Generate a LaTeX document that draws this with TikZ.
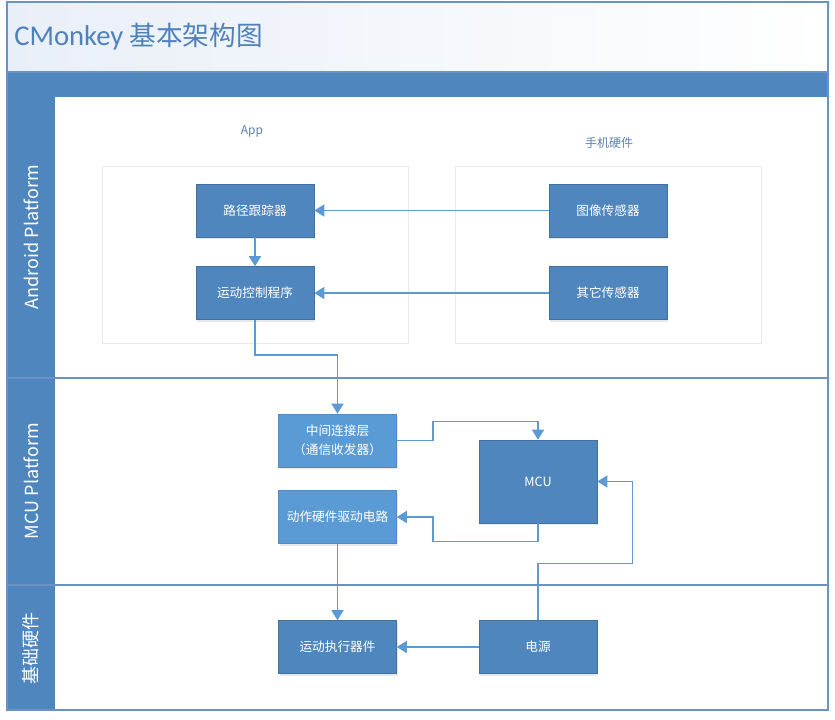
\documentclass[tikz,border=0pt]{standalone}
\usepackage{fontspec}
\setmainfont{Noto Sans CJK SC}
\newfontfamily\titlelatin{Carlito}
\usetikzlibrary{arrows.meta,shadows,calc}
\definecolor{boxblue}{HTML}{4F86BE}
\definecolor{boxedge}{HTML}{41719C}
\definecolor{lightboxcol}{HTML}{5B9BD5}
\definecolor{linkblue}{HTML}{5B9BD5}
\definecolor{framecol}{HTML}{6A93C4}
\definecolor{titlecol}{HTML}{4F81BD}
\definecolor{labelcol}{HTML}{5A82B4}
\definecolor{titlebg}{HTML}{E9EFF8}
\definecolor{contcol}{HTML}{EBEBEB}
\begin{document}
\begin{tikzpicture}[x=0.75pt,y=-0.75pt,
  basebox/.style={text=white, minimum width=88.5pt, minimum height=39.75pt, inner sep=0pt,
    align=center, font=\fontsize{9.5}{14}\selectfont,
    drop shadow={opacity=0.18, shadow xshift=0.8pt, shadow yshift=-1.5pt}},
  darkbox/.style={basebox, fill=boxblue, draw=boxedge, line width=0.4pt},
  lightbox/.style={basebox, fill=lightboxcol, draw=lightboxcol!90!black, line width=0.4pt},
  link/.style={draw=linkblue, line width=1.1pt, -{Triangle[width=9pt,length=7.5pt]}},
  lanelabel/.style={rotate=90, text=white, font=\fontsize{13.5}{16}\selectfont},
  grouplabel/.style={text=labelcol, font=\fontsize{9}{12}\selectfont}
]
\useasboundingbox (0,0) rectangle (835,720);
% title area
\shade[left color=titlebg, right color=white] (7,2) rectangle (828,72);
\node[anchor=west, text=titlecol, font=\fontsize{20}{24}\selectfont, inner sep=0pt] (title) at (14,37)
  {{\titlelatin\fontsize{21.5}{24}\selectfont CMonkey} 基本架构图};
% blue bar
\fill[boxblue] (7,72) rectangle (828,97);
% lanes background
\fill[white] (55,97) rectangle (828,710);
% header column
\fill[boxblue] (7,97) rectangle (55,710);
% lane separators
\draw[framecol, line width=0.8pt] (7,378) -- (828,378);
\draw[framecol, line width=0.8pt] (7,585) -- (828,585);
% lane labels
\node[lanelabel] (lane1) at (31,237) {Android Platform};
\node[lanelabel] (lane2) at (31,481) {MCU Platform};
\node[lanelabel] (lane3) at (31,648) {基础硬件};
% groups
\draw[contcol, line width=0.5pt] (102,166) rectangle (408,343);
\draw[contcol, line width=0.5pt] (455,166) rectangle (761,343);
\node[grouplabel] (app) at (252,131) {App};
\node[grouplabel] (phone) at (609,143) {手机硬件};
% boxes
\node[darkbox] (tracker) at (255,210.5) {路径跟踪器};
\node[darkbox] (ctrl) at (255,293) {运动控制程序};
\node[darkbox] (cam) at (608,210.5) {图像传感器};
\node[darkbox] (sens) at (608,293) {其它传感器};
\node[lightbox] (comm) at (337.5,440.5) {中间连接层\\（通信收发器）};
\node[lightbox] (drive) at (337.5,517) {动作硬件驱动电路};
\node[darkbox, minimum height=62.25pt] (mcu) at (538,481.5) {MCU};
\node[darkbox] (act) at (337.5,647) {运动执行器件};
\node[darkbox] (power) at (538,647) {电源};
% connectors
\draw[link] (cam) -- (tracker);
\draw[link] (sens) -- (ctrl);
\draw[link] (tracker) -- (ctrl);
\draw[link] (ctrl.south) -- ++(0,35) -| (comm.north);
\draw[link] (comm.east) -- ++(36,0) |- ([yshift=13.5pt]mcu.north) -- (mcu.north);
\draw[link] (mcu.south) -- ++(0,18) -| ($(drive.east)+(36,0)$) -- (drive.east);
\draw[link] (power.north) -- ++(0,-57) -| ($(mcu.east)+(35,0)$) -- (mcu.east);
\draw[link] (drive.south) -- (act.north);
\draw[link] (power.west) -- (act.east);
% frame
\draw[framecol, line width=0.8pt] (7,2) rectangle (828,710);
\draw[framecol, line width=0.8pt] (7,72) -- (828,72);
\end{tikzpicture}
\end{document}
